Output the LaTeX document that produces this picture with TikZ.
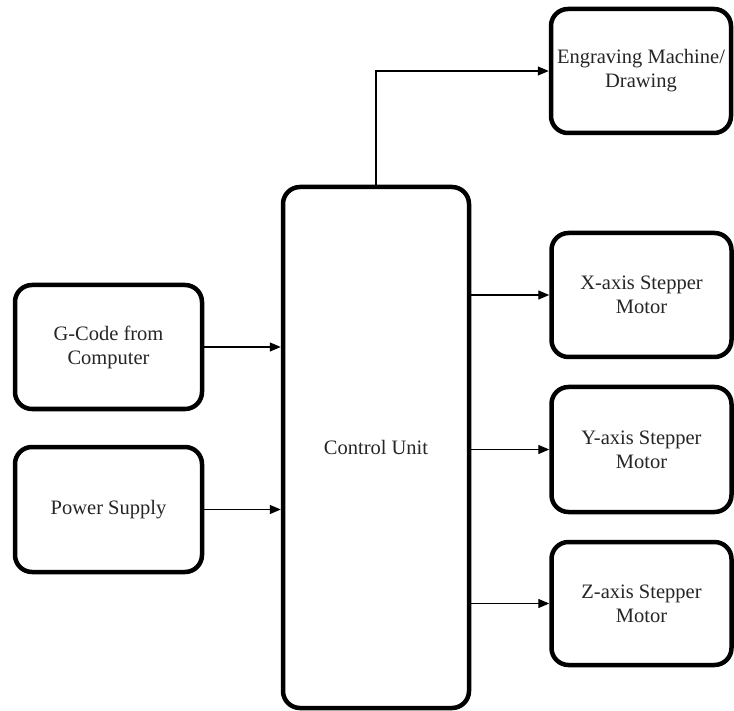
\documentclass[tikz,border=0pt]{standalone}
\usepackage{fontspec}
\setmainfont{Liberation Serif}
\usetikzlibrary{arrows.meta}
\begin{document}
\begin{tikzpicture}[x=1pt,y=-1pt,
  block/.style={draw=black, line width=4.5pt, rounded corners=17pt, fill=white,
    align=center, inner sep=0pt, text=black!85,
    font=\fontsize{20.5}{24}\selectfont},
  flow/.style={line width=1.4pt, -{Triangle[length=11pt,width=9pt]}}]
  \useasboundingbox (0,0) rectangle (734,711);

  % blocks
  \node[block, minimum width=186pt, minimum height=521pt] (cu) at (376,447.5) {Control Unit};
  \node[block, minimum width=187pt, minimum height=124pt] (gc) at (108.5,347) {G-Code from\\Computer};
  \node[block, minimum width=187pt, minimum height=125pt] (ps) at (108.5,509.5) {Power Supply};
  \node[block, minimum width=180pt, minimum height=124pt] (em) at (641,71) {Engraving Machine/\\Drawing};
  \node[block, minimum width=180pt, minimum height=124pt] (xm) at (641.5,295) {X-axis Stepper\\Motor};
  \node[block, minimum width=180pt, minimum height=125pt] (ym) at (641.5,449.5) {Y-axis Stepper\\Motor};
  \node[block, minimum width=180pt, minimum height=123pt] (zm) at (641.5,603.5) {Z-axis Stepper\\Motor};

  % inputs
  \draw[flow] (gc.east) -- (gc.east -| cu.west);
  \draw[flow] (ps.east) -- (ps.east -| cu.west);

  % outputs
  \coordinate (top) at (cu.north);
  \draw[flow] (top) |- (em.west);
  \draw[flow] (xm.west -| cu.east) -- (xm.west);
  \draw[flow] (ym.west -| cu.east) -- (ym.west);
  \draw[flow] (zm.west -| cu.east) -- (zm.west);
\end{tikzpicture}
\end{document}
